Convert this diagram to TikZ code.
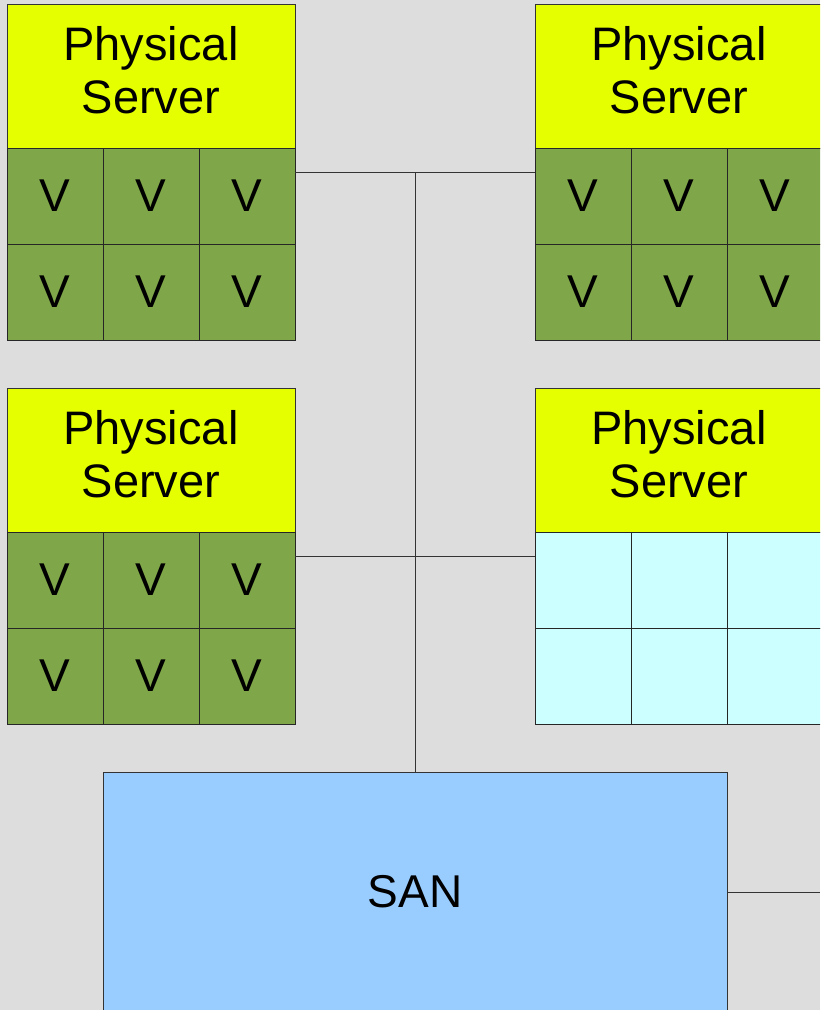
\documentclass[tikz,border=0pt]{standalone}
\usepackage{fontspec}
\setmainfont{Liberation Sans}
\usetikzlibrary{calc}
\definecolor{bg}{HTML}{DDDDDD}
\definecolor{hdr}{HTML}{E6FF00}
\definecolor{vm}{HTML}{7FA648}
\definecolor{emptyvm}{HTML}{CCFFFF}
\definecolor{san}{HTML}{99CCFF}
\newcommand{\hdrtext}{\raisebox{8pt}{\begin{tabular}{@{}c@{}}Physical\\Server\end{tabular}}}
\tikzset{
  header/.style={draw=black!80, line width=0.8pt, fill=hdr, minimum width=288pt, minimum height=144pt,
    inner sep=0pt, outer sep=0pt, anchor=north west,
    font=\fontsize{47}{53}\selectfont},
  cell/.style={draw=black!85, line width=0.8pt, fill=vm, minimum width=96pt, minimum height=96pt,
    inner sep=0pt, outer sep=0pt, anchor=north west, font=\fontsize{46}{52}\selectfont},
  freecell/.style={cell, fill=emptyvm},
  body/.style={minimum width=288pt, minimum height=192pt, inner sep=0pt, outer sep=0pt, anchor=north west},
  link/.style={draw=black!80, line width=0.8pt},
  sanbox/.style={draw=black!80, line width=0.8pt, fill=san, minimum width=624pt, minimum height=240pt,
    inner sep=0pt, outer sep=0pt, font=\fontsize{46}{52}\selectfont}
}
\begin{document}
\begin{tikzpicture}[x=1pt,y=-1pt]
\useasboundingbox (0,0) rectangle (820,1010);
\clip (0,0) rectangle (820,1010);
\fill[bg] (0,0) rectangle (820,1010);
% servers
\node[header] (tlh) at (7,4) {\hdrtext};
\node[body] (tlb) at (7,148) {};
\foreach \r in {0,1}{\foreach \c in {0,1,2}{
  \node[cell] (tlc\r\c) at (7+\c*96,148+\r*96) {V};}}
\node[header] (trh) at (535,4) {\hdrtext};
\node[body] (trb) at (535,148) {};
\foreach \r in {0,1}{\foreach \c in {0,1,2}{
  \node[cell] (trc\r\c) at (535+\c*96,148+\r*96) {V};}}
\node[header] (blh) at (7,388) {\hdrtext};
\node[body] (blb) at (7,532) {};
\foreach \r in {0,1}{\foreach \c in {0,1,2}{
  \node[cell] (blc\r\c) at (7+\c*96,532+\r*96) {V};}}
\node[header] (brh) at (535,388) {\hdrtext};
\node[body] (brb) at (535,532) {};
\foreach \r in {0,1}{\foreach \c in {0,1,2}{
  \node[freecell] (brc\r\c) at (535+\c*96,532+\r*96) {};}}
% SAN
\node[sanbox] (san) at (415,892) {SAN};
% network
\coordinate (j1) at (415,172);
\coordinate (j2) at (415,556);
\coordinate (out) at (820,892);
\draw[link] (tlb.north east |- j1) -- (trb.north west |- j1);
\draw[link] (blb.north east |- j2) -- (brb.north west |- j2);
\draw[link] (j1) -- (san.north);
\draw[link] (san.east) -- (out);
\end{tikzpicture}
\end{document}
